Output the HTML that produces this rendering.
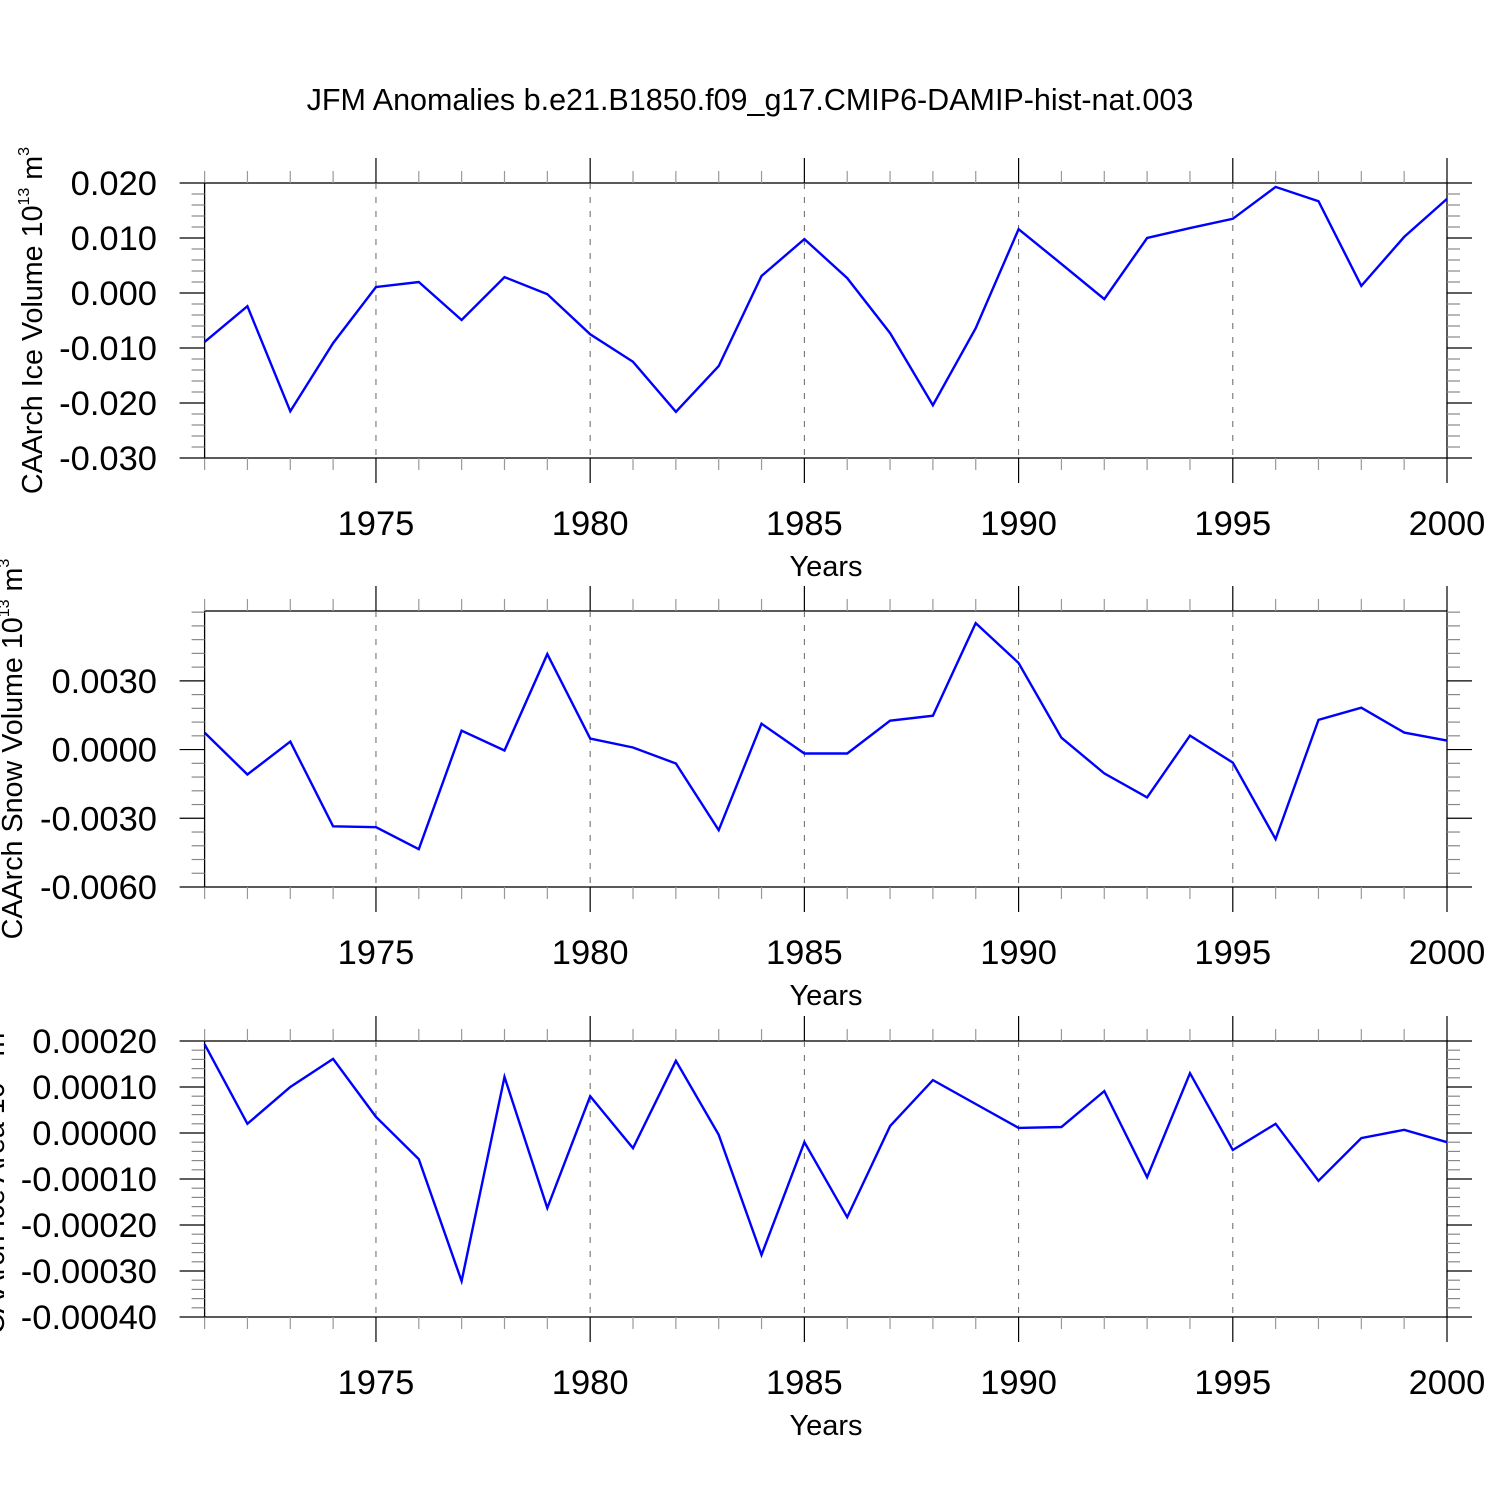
<!DOCTYPE html>
<html><head><meta charset="utf-8"><style>
html,body{margin:0;padding:0;background:#fff;}
svg{display:block;font-family:"Liberation Sans",sans-serif;}
</style></head><body>
<svg id="chart" width="1500" height="1500" viewBox="0 0 1500 1500" xmlns="http://www.w3.org/2000/svg">
<text x="750" y="110" text-anchor="middle" font-size="30.5">JFM Anomalies b.e21.B1850.f09_g17.CMIP6-DAMIP-hist-nat.003</text>
<g id="plots"></g>
</svg>
<script>
const years = [1971,1972,1973,1974,1975,1976,1977,1978,1979,1980,1981,1982,1983,1984,1985,1986,1987,1988,1989,1990,1991,1992,1993,1994,1995,1996,1997,1998,1999,2000];
const iceVolume = [-0.0089,-0.0024,-0.0215,-0.0091,0.0011,0.0020,-0.0049,0.0029,-0.0002,-0.0075,-0.0125,-0.0216,-0.0133,0.0031,0.0098,0.0027,-0.0073,-0.0204,-0.0064,0.0116,0.0053,-0.0011,0.0100,0.0118,0.0135,0.0193,0.0167,0.0013,0.0102,0.0171];
const snowVolume = [0.00074,-0.00109,0.00035,-0.00335,-0.00339,-0.00435,0.00083,-0.00004,0.00417,0.00048,0.00009,-0.00061,-0.00352,0.00113,-0.00017,-0.00017,0.00126,0.00148,0.00552,0.00378,0.00052,-0.00104,-0.00209,0.00061,-0.00057,-0.00391,0.0013,0.00183,0.00074,0.00039];
const iceArea = [0.000193,0.00002,0.0001,0.000161,0.000035,-0.000057,-0.000322,0.000122,-0.000163,0.00008,-0.000033,0.000157,-0.000004,-0.000265,-0.00002,-0.000183,0.000015,0.000115,0.000063,0.000011,0.000013,0.000091,-0.000096,0.00013,-0.000037,0.00002,-0.000104,-0.000011,0.000007,-0.00002];
const xTickLabels = [1975,1980,1985,1990,1995,2000];
const iceVolTicks = ["0.020","0.010","0.000","-0.010","-0.020","-0.030"];
const snowTicks = ["0.0030","0.0000","-0.0030","-0.0060"];
const areaTicks = ["0.00020","0.00010","0.00000","-0.00010","-0.00020","-0.00030","-0.00040"];

const NS="http://www.w3.org/2000/svg";
const g=document.getElementById('plots');
function mk(tag,attrs,parent){const e=document.createElementNS(NS,tag);for(const k in attrs)e.setAttribute(k,attrs[k]);(parent||g).appendChild(e);return e;}
const X0=204.6,X1=1447;
function xs(yr){return X0+(yr-1971)*(X1-X0)/(2000-1971);}

const panels=[
 {name:'ice-volume',top:183,bot:458,min:-0.030,max:0.020,major:0.010,nminor:4,data:iceVolume,labels:iceVolTicks,ylab:'CAArch Ice Volume 10',sup2:'3',lx:42},
 {name:'snow-volume',top:611,bot:887,min:-0.006,max:0.00605,major:0.003,nminor:4,data:snowVolume,labels:snowTicks,ylab:'CAArch Snow Volume 10',sup2:'3',lx:22},
 {name:'ice-area',top:1041,bot:1317,min:-0.0004,max:0.0002,major:0.0001,nminor:4,data:iceArea,labels:areaTicks,ylab:'CAArch Ice Area 10',sup2:'2',lx:4}
];
panels.forEach(p=>{
 const pg=mk('g',{});
 
 
 const ys=v=>p.bot-(v-p.min)*(p.bot-p.top)/(p.max-p.min);
 const fr=mk('rect',{x:xs(1971),y:p.top,width:X1-xs(1971),height:p.bot-p.top,fill:'none',stroke:'#000','stroke-width':1.3},pg);
 
 
 years.forEach(yr=>{
  const x=xs(yr);const maj=yr%5===0;const L=maj?25:12;
  mk('line',{x1:x,x2:x,y1:p.top-L,y2:p.top,stroke:maj?'#000':'#999','stroke-width':1.2},pg);
  mk('line',{x1:x,x2:x,y1:p.bot,y2:p.bot+L,stroke:maj?'#000':'#999','stroke-width':1.2},pg);
  if(maj&&yr<2000) mk('line',{x1:x,x2:x,y1:p.top,y2:p.bot,stroke:'#666','stroke-width':1,'stroke-dasharray':'6,8'},pg);
 });
 xTickLabels.forEach(yr=>{
  const t=mk('text',{x:xs(yr),y:p.bot+77,'text-anchor':'middle','font-size':34.5},pg);
  t.textContent=yr;
  
  
 });
 const xt=mk('text',{x:826,y:p.bot+118,'text-anchor':'middle','font-size':29},pg);
 xt.textContent='Years';
 
 
 const majVals=p.labels.map(parseFloat);
 const step=p.major/(p.nminor+1);
 for(let i=0;;i++){const v=p.min+i*step;if(v>p.max+1e-12)break;const y=ys(v);
  const maj=majVals.some(m=>Math.abs(m-v)<step*0.1);
  const L=maj?25:13;
  mk('line',{x1:xs(1971)-L,x2:xs(1971),y1:y,y2:y,stroke:maj?'#000':'#888','stroke-width':1.2},pg);
  mk('line',{x1:X1,x2:X1+L,y1:y,y2:y,stroke:maj?'#000':'#888','stroke-width':1.2},pg);
 }
 p.labels.forEach(lb=>{
  const t=mk('text',{x:157,y:ys(parseFloat(lb))+12,'text-anchor':'end','font-size':34.5},pg);
  t.textContent=lb;
  
  
 });
 const cy=(p.top+p.bot)/2;
 const yt=mk('text',{x:0,y:0,'text-anchor':'middle','font-size':28.7,transform:`translate(${p.lx},${cy}) rotate(-90)`},pg);
 
 
 yt.appendChild(document.createTextNode(p.ylab));
 const s1=mk('tspan',{'font-size':16,dy:-13},yt);s1.textContent='13';
 const s2=mk('tspan',{dy:13},yt);s2.textContent=' m';
 const s3=mk('tspan',{'font-size':16,dy:-13},yt);s3.textContent=p.sup2;
 const pts=years.map((yr,i)=>xs(yr).toFixed(1)+','+ys(p.data[i]).toFixed(1)).join(' ');
 const pl=mk('polyline',{points:pts,fill:'none',stroke:'#0000ff','stroke-width':2.4,'stroke-linejoin':'miter'},pg);
 
 
});
</script>
</body></html>
